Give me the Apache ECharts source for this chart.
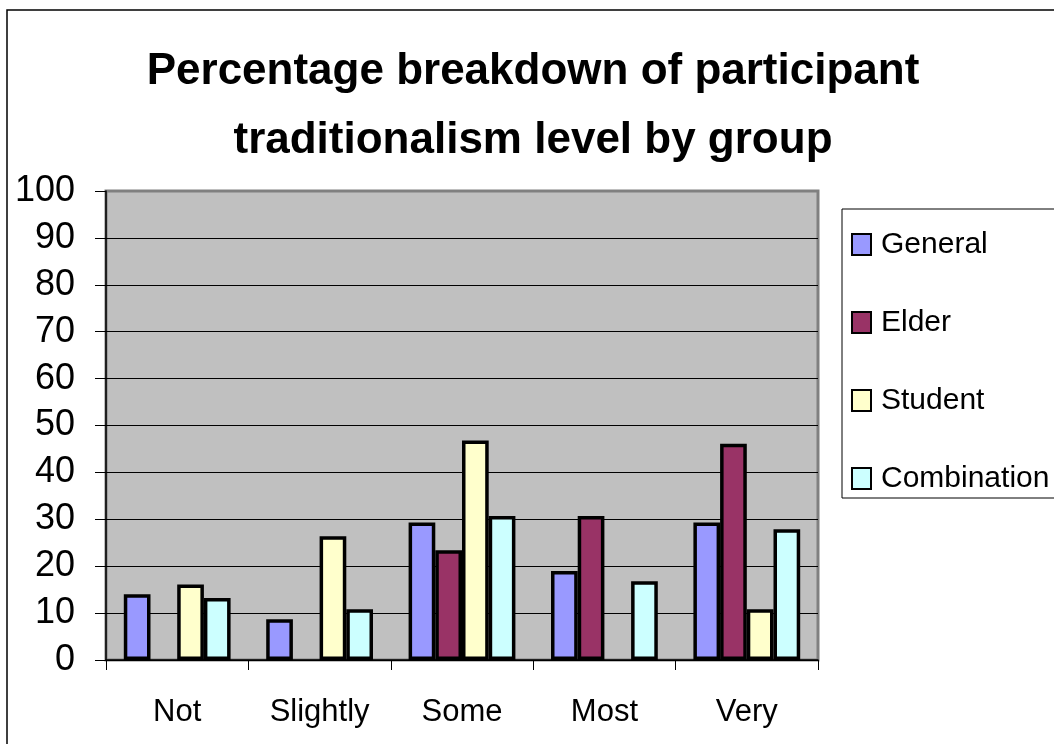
<!DOCTYPE html>
<html>
<head>
<meta charset="utf-8">
<script src="https://cdn.jsdelivr.net/npm/echarts@6/dist/echarts.min.js"></script>
<style>
html,body{margin:0;padding:0;background:#fff;}
#chart{width:1054px;height:744px;}
</style>
</head>
<body>
<div id="chart"></div>
<script>
var categories = ['Not', 'Slightly', 'Some', 'Most', 'Very'];
var seriesNames = ['General', 'Elder', 'Student', 'Combination'];
var general = [14, 8.7, 29.3, 19, 29.3];
var elder = [null, null, 23.4, 30.7, 46.1];
var student = [16.1, 26.4, 46.8, null, 10.8];
var combination = [13.2, 10.8, 30.7, 16.8, 27.9];
var yTicks = [0, 10, 20, 30, 40, 50, 60, 70, 80, 90, 100];

var colors = ['#9999FF', '#993366', '#FFFFCC', '#CCFFFF'];
var values = [general, elder, student, combination];
var font = "'Liberation Sans', Arial, sans-serif";

var gridLineColors = yTicks.map(function (t) { return t === 100 ? '#808080' : '#000000'; });

var chart = echarts.init(document.getElementById('chart'), null, {renderer: 'canvas'});
chart.setOption({
  backgroundColor: '#ffffff',
  animation: false,
  title: {
    text: 'Percentage breakdown of participant\ntraditionalism level by group',
    left: 533,
    top: 37,
    textAlign: 'center',
    padding: 0,
    textStyle: {
      fontFamily: font,
      fontWeight: 'bold',
      fontSize: 44,
      lineHeight: 69,
      color: '#000'
    }
  },
  legend: {
    orient: 'vertical',
    left: 842,
    top: 209,
    padding: [20, 40, 4, 9],
    itemGap: 47,
    itemWidth: 19,
    itemHeight: 21,
    backgroundColor: '#ffffff',
    borderColor: '#000000',
    borderWidth: 1,
    borderRadius: 0,
    icon: 'rect',
    data: seriesNames,
    textStyle: {
      fontFamily: font,
      fontSize: 30,
      lineHeight: 31,
      color: '#000',
      padding: [0, 0, 0, 5]
    }
  },
  grid: {
    left: 106,
    right: 236,
    top: 191,
    bottom: 84,
    show: true,
    backgroundColor: '#C0C0C0',
    borderColor: '#808080',
    borderWidth: 3
  },
  xAxis: {
    type: 'category',
    data: categories,
    boundaryGap: true,
    axisLine: {show: true, lineStyle: {color: '#000', width: 1.5}},
    axisTick: {show: true, length: 10, alignWithLabel: false, lineStyle: {color: '#000', width: 1}},
    axisLabel: {
      fontFamily: font,
      fontSize: 31,
      lineHeight: 31,
      color: '#000',
      margin: 37
    },
    splitLine: {show: false}
  },
  yAxis: {
    type: 'value',
    min: 0,
    max: 100,
    interval: 10,
    axisLine: {show: true, lineStyle: {color: '#000', width: 1.5}},
    axisTick: {show: true, length: 11, lineStyle: {color: '#000', width: 1}},
    axisLabel: {
      fontFamily: font,
      fontSize: 36,
      color: '#000',
      margin: 31
    },
    splitLine: {show: true, lineStyle: {color: gridLineColors, width: 1}}
  },
  series: seriesNames.map(function (name, i) {
    return {
      name: name,
      type: 'bar',
      data: values[i],
      barGap: '0%',
      barCategoryGap: '25%',
      itemStyle: {color: colors[i], borderColor: '#000', borderWidth: 3.5}
    };
  }),
  graphic: [{
    type: 'rect',
    silent: true,
    z: 100,
    shape: {x: 7, y: 10, width: 1100, height: 800},
    style: {fill: null, stroke: '#000', lineWidth: 1.5}
  }]
});
</script>
</body>
</html>
